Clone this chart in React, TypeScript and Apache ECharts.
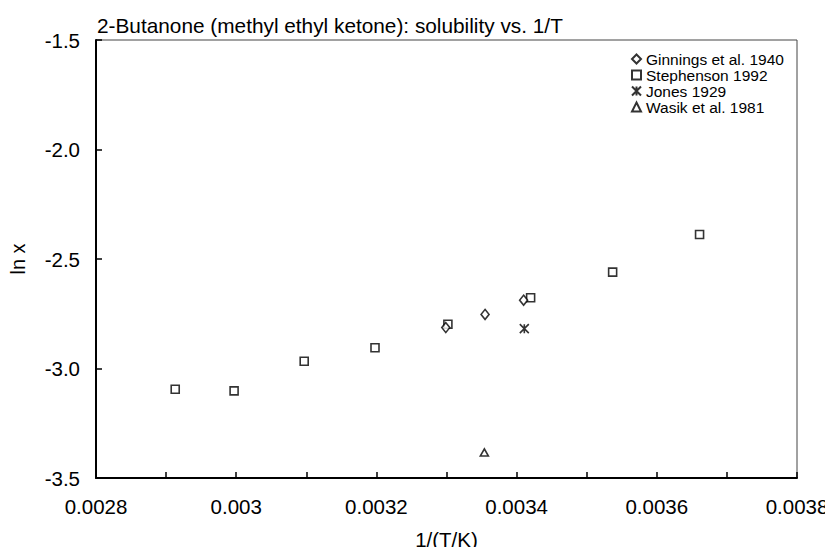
import React, { useEffect, useRef } from "react";
import * as echarts from "echarts";

const ginnings: [number, number][] = [
  [0.003299, -2.813],
  [0.003355, -2.753],
  [0.00341, -2.688],
];
const stephenson: [number, number][] = [
  [0.002913, -3.095],
  [0.002997, -3.102],
  [0.003097, -2.967],
  [0.003198, -2.905],
  [0.003302, -2.798],
  [0.00342, -2.677],
  [0.003537, -2.56],
  [0.003661, -2.388],
];
const jones: [number, number][] = [[0.003411, -2.818]];
const wasik: [number, number][] = [[0.003354, -3.383]];

const seriesNames = ["Ginnings et al. 1940", "Stephenson 1992", "Jones 1929", "Wasik et al. 1981"];

const FONT = "'Liberation Sans', Arial, sans-serif";

export default function App() {
  const ref = useRef<HTMLDivElement>(null);
  useEffect(() => {
    if (!ref.current) return;
    const chart = echarts.init(ref.current, undefined, { renderer: "svg" });
    const itemStyle = { color: "#ffffff", borderColor: "#000000", borderWidth: 1.6 };
    chart.setOption({
      animation: false,
      backgroundColor: "#ffffff",
      textStyle: { fontFamily: FONT, color: "#000" },
      title: {
        text: "2-Butanone (methyl ethyl ketone): solubility vs. 1/T",
        left: 92,
        top: 10,
        textStyle: { fontFamily: FONT, fontSize: 20.8, fontWeight: "normal", color: "#000" },
      },
      legend: {
        orient: "vertical",
        left: 626,
        top: 46,
        itemWidth: 9,
        itemHeight: 9,
        itemGap: 0,
        textStyle: { fontFamily: FONT, fontSize: 15.5, color: "#000", lineHeight: 16 },
        data: seriesNames,
      },
      grid: {
        left: 93.5,
        right: 36,
        top: 40,
        bottom: 75,
        show: true,
        borderColor: "#444",
        borderWidth: 1,
        backgroundColor: "#fff",
      },
      xAxis: {
        type: "value",
        min: 0.0028,
        max: 0.0038,
        interval: 0.0002,
        name: "1/(T/K)",
        nameLocation: "middle",
        nameGap: 51,
        nameTextStyle: { fontFamily: FONT, fontSize: 20.5, color: "#000" },
        axisLine: { show: true, onZero: false, lineStyle: { color: "#000", width: 2 } },
        axisTick: { show: true, inside: true, length: 6, lineStyle: { color: "#000", width: 1.5 } },
        minorTick: { show: true, splitNumber: 2, length: 6, lineStyle: { color: "#000", width: 1.5 } },
        splitLine: { show: false },
        axisLabel: {
          margin: 18,
          fontFamily: FONT,
          fontSize: 20.5,
          color: "#000",
          formatter: (v: number) => String(+v.toFixed(4)),
        },
      },
      yAxis: {
        type: "value",
        min: -3.5,
        max: -1.5,
        interval: 0.5,
        name: "ln x",
        nameLocation: "middle",
        nameGap: 68,
        nameRotate: 90,
        nameTextStyle: { fontFamily: FONT, fontSize: 20, color: "#000" },
        axisLine: { show: true, onZero: false, lineStyle: { color: "#000", width: 2 } },
        axisTick: { show: true, inside: true, length: 6, lineStyle: { color: "#000", width: 1.5 } },
        splitLine: { show: false },
        axisLabel: {
          margin: 16,
          fontFamily: FONT,
          fontSize: 20.5,
          color: "#000",
          formatter: (v: number) => v.toFixed(1),
        },
      },
      series: [
        {
          name: seriesNames[0],
          type: "scatter",
          symbol: "diamond",
          symbolSize: [8, 10],
          itemStyle,
          data: ginnings,
          z: 3,
        },
        {
          name: seriesNames[1],
          type: "scatter",
          symbol: "rect",
          symbolSize: 8,
          itemStyle,
          data: stephenson,
          z: 2,
        },
        {
          name: seriesNames[2],
          type: "scatter",
          symbol: "path://M0,0 L10,10 M10,0 L0,10 M5,0 L5,10",
          symbolSize: 9,
          itemStyle,
          data: jones,
        },
        {
          name: seriesNames[3],
          type: "scatter",
          symbol: "triangle",
          symbolSize: [8, 7],
          itemStyle,
          data: wasik,
        },
      ],
    });
    return () => chart.dispose();
  }, []);
  return <div ref={ref} style={{ width: 833, height: 555, margin: -8 }} />;
}
